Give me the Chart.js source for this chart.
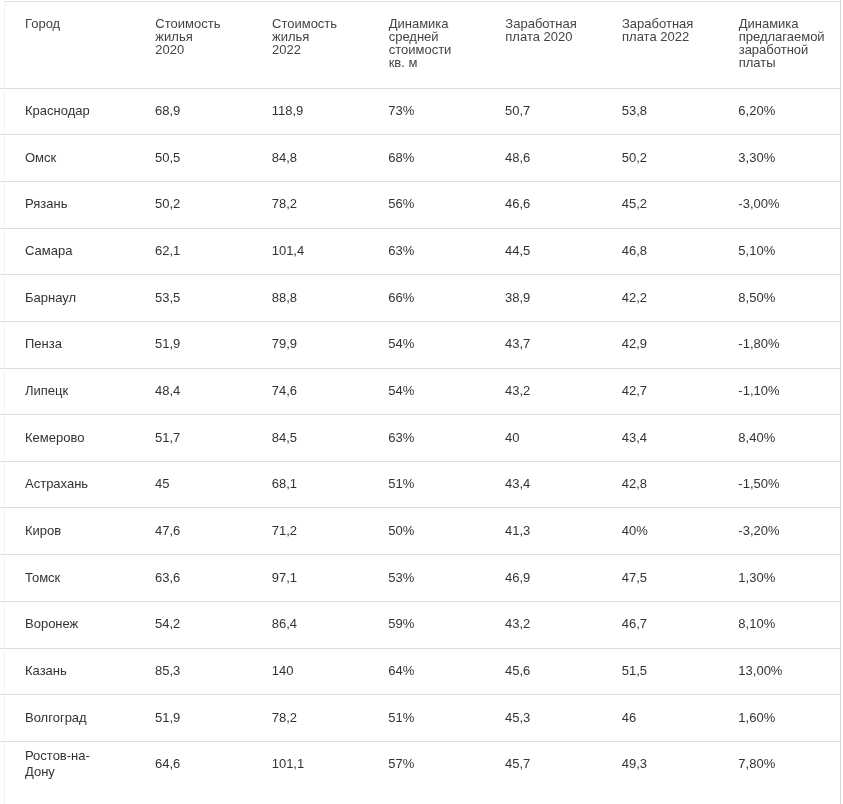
<!DOCTYPE html>
<html>
<head>
<meta charset="utf-8">
<script src="https://cdn.jsdelivr.net/npm/chart.js@4/dist/chart.umd.min.js"></script>
<style>
  body { margin: 0; background: #fff; }
  canvas { display: block; }
</style>
</head>
<body>
<canvas id="table-chart" width="843" height="804"></canvas>
<script>
// table data
const cities = ['Краснодар', 'Омск', 'Рязань', 'Самара', 'Барнаул', 'Пенза', 'Липецк', 'Кемерово',
    'Астрахань', 'Киров', 'Томск', 'Воронеж', 'Казань', 'Волгоград', 'Ростов-на-Дону'];
const headers = [
    ['Стоимость', 'жилья', '2020'],
    ['Стоимость', 'жилья', '2022'],
    ['Динамика', 'средней', 'стоимости', 'кв. м'],
    ['Заработная', 'плата 2020'],
    ['Заработная', 'плата 2022'],
    ['Динамика', 'предлагаемой', 'заработной', 'платы']
];
const housing2020 = [68.9, 50.5, 50.2, 62.1, 53.5, 51.9, 48.4, 51.7, 45, 47.6, 63.6, 54.2, 85.3, 51.9, 64.6];
const housing2022 = [118.9, 84.8, 78.2, 101.4, 88.8, 79.9, 74.6, 84.5, 68.1, 71.2, 97.1, 86.4, 140, 78.2, 101.1];
const housingGrowth = [73, 68, 56, 63, 66, 54, 54, 63, 51, 50, 53, 59, 64, 51, 57];   // %
const salary2020 = [50.7, 48.6, 46.6, 44.5, 38.9, 43.7, 43.2, 40, 43.4, 41.3, 46.9, 43.2, 45.6, 45.3, 45.7];
const salary2022 = [53.8, 50.2, 45.2, 46.8, 42.2, 42.9, 42.7, 43.4, 42.8, '40%', 47.5, 46.7, 51.5, 46, 49.3];
const salaryGrowth = [6.2, 3.3, -3, 5.1, 8.5, -1.8, -1.1, 8.4, -1.5, -3.2, 1.3, 8.1, 13, 1.6, 7.8];  // %

const FONT = '"Liberation Sans", Arial, sans-serif';

function num(v) {
    return typeof v === 'string' ? v : String(v).replace('.', ',');
}
function pct(v) {
    return v + '%';
}
function pct2(v) {
    return v.toFixed(2).replace('.', ',') + '%';
}

const columns = [
    [housing2020, num],
    [housing2022, num],
    [housingGrowth, pct],
    [salary2020, num],
    [salary2022, num],
    [salaryGrowth, pct2]
];

// draws the cell texts at the points placed by the scales, plus the table frame
const cellText = {
    id: 'cellText',
    afterDatasetsDraw(chart) {
        const ctx = chart.ctx;
        const x = chart.scales.x;
        const y = chart.scales.y;
        const colW = (x.right - x.left) / x.ticks.length;

        ctx.save();
        ctx.font = '13px ' + FONT;
        ctx.textAlign = 'left';
        ctx.textBaseline = 'middle';
        ctx.fillStyle = '#333';
        chart.data.datasets.forEach((ds, j) => {
            chart.getDatasetMeta(j).data.forEach((pt, i) => {
                ctx.fillText(ds.data[i].text, pt.x - colW / 2 + 15, pt.y);
            });
        });

        // first header cell
        const lh = 13;
        const maxLines = Math.max(...headers.map(h => h.length));
        ctx.fillStyle = '#444';
        ctx.fillText('Город', y.left, x.bottom - x.options.ticks.padding - maxLines * lh + lh / 2);

        // frame
        ctx.lineWidth = 1;
        ctx.strokeStyle = '#e3e3e3';
        ctx.beginPath();
        ctx.moveTo(4, 1.5);
        ctx.lineTo(x.right, 1.5);
        ctx.stroke();
        ctx.strokeStyle = '#d9d9d9';
        ctx.beginPath();
        ctx.moveTo(x.right + 0.5, 0);
        ctx.lineTo(x.right + 0.5, chart.height);
        ctx.stroke();
        ctx.strokeStyle = '#f1f1f1';
        ctx.beginPath();
        ctx.moveTo(4.5, 2);
        ctx.lineTo(4.5, chart.height);
        ctx.stroke();
        ctx.restore();
    }
};

function setupTable() {
    const canvas = document.getElementById('table-chart');
    // x = column index, y = row index (category scales, parsing off)
    const datasets = columns.map(([values, fmt], j) => ({
        label: headers[j].join(' '),
        data: values.map((v, i) => ({x: j, y: i, text: fmt(v)})),
        pointRadius: 0,
        showLine: false
    }));

    return new Chart(canvas.getContext('2d'), {
        type: 'scatter',
        data: {datasets: datasets},
        plugins: [cellText],
        options: {
            responsive: false,
            animation: false,
            parsing: false,
            events: [],
            layout: {padding: {left: 25, right: 3, top: 0, bottom: 16}},
            plugins: {
                legend: {display: false},
                tooltip: {enabled: false}
            },
            scales: {
                x: {
                    type: 'category',
                    labels: headers,
                    position: 'top',
                    offset: true,
                    grid: {display: false, drawTicks: false, tickLength: 0},
                    border: {display: false},
                    ticks: {
                        align: 'start',
                        crossAlign: 'far',
                        labelOffset: -43,
                        padding: 18,
                        maxRotation: 0,
                        autoSkip: false,
                        color: '#444',
                        font: {family: FONT, size: 13, lineHeight: 1}
                    },
                    afterFit: (scale) => {
                        scale.height = 88;
                        scale.paddingLeft = 0;
                        scale.paddingRight = 0;
                    }
                },
                y: {
                    type: 'category',
                    labels: cities,
                    offset: true,
                    grid: {
                        offset: true,
                        drawTicks: true,
                        tickLength: 140,
                        color: (c) => c.tick ? '#dddddd' : 'rgba(0,0,0,0)'
                    },
                    border: {display: false},
                    ticks: {
                        crossAlign: 'far',
                        padding: 0,
                        autoSkip: false,
                        color: '#333',
                        font: {family: FONT, size: 13, lineHeight: 1.2},
                        callback: function (value) {
                            const s = this.getLabelForValue(value);
                            const k = s.lastIndexOf('-');
                            return s.length > 12 && k > 0 ? [s.slice(0, k + 1), s.slice(k + 1)] : s;
                        }
                    },
                    afterFit: (scale) => {
                        scale.width = 115;
                        scale.paddingTop = 0;
                        scale.paddingBottom = 0;
                    }
                }
            }
        }
    });
}

const tableChart = setupTable();
</script>
</body>
</html>
